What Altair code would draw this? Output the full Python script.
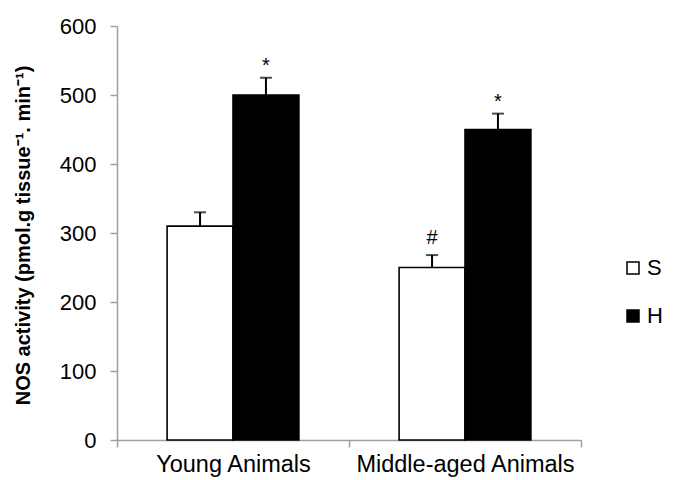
import altair as alt
import pandas as pd

groups = ["Young Animals", "Middle-aged Animals"]
series = ["S", "H"]
mean_S = [310, 250]
mean_H = [500, 450]
err_S = [330, 268]
err_H = [525, 473]
mark_S = ["", "#"]
mark_H = ["*", "*"]

rows = []
for i, g in enumerate(groups):
    rows.append({"group": g, "series": "S", "value": mean_S[i], "err": err_S[i], "label": mark_S[i]})
    rows.append({"group": g, "series": "H", "value": mean_H[i], "err": err_H[i], "label": mark_H[i]})
df = pd.DataFrame(rows)

FONT = "Liberation Sans"
AXIS_GRAY = "#a0a0a0"

x_enc = alt.X("group:N", sort=groups, title=None,
              scale=alt.Scale(paddingInner=0, paddingOuter=0),
              axis=alt.Axis(labelAngle=0, tickBand="extent", labelFontSize=23.5,
                            labelFont=FONT, labelColor="black", domainColor=AXIS_GRAY,
                            tickColor=AXIS_GRAY, tickSize=7, labelPadding=5, labelLimit=400,
                            domainWidth=1.5, tickWidth=1.5))
xoff = alt.XOffset("series:N", sort=series,
                   scale=alt.Scale(paddingInner=0, paddingOuter=0.76))
y_enc = alt.Y("value:Q", scale=alt.Scale(domain=[0, 600], nice=False),
              axis=alt.Axis(values=[0, 100, 200, 300, 400, 500, 600], grid=False,
                            labelFontSize=22, labelFont=FONT, labelColor="black",
                            domainColor=AXIS_GRAY, tickColor=AXIS_GRAY, tickSize=7,
                            labelPadding=14, domainWidth=1.5, tickWidth=1.5,
                            title="NOS activity (pmol.g tissue\u207b\u00b9. min\u207b\u00b9)",
                            titleFont=FONT, titleFontSize=20, titleFontWeight="bold",
                            titleColor="black", titleAngle=-90, titleX=-94, titleY=209,
                            titleAlign="center", titleBaseline="middle"))

base = alt.Chart(df)

bars = base.mark_bar(stroke="black", strokeWidth=1.6).encode(
    x=x_enc, xOffset=xoff, y=y_enc,
    fill=alt.Fill("series:N", sort=series,
                  scale=alt.Scale(domain=series, range=["white", "black"]),
                  legend=alt.Legend(title=None, orient="none", legendX=505, legendY=231,
                                    symbolType="square", symbolSize=144,
                                    symbolStrokeColor="black", symbolStrokeWidth=1.5,
                                    labelFontSize=22, labelFont=FONT, labelColor="black",
                                    labelOffset=3, rowPadding=26, padding=0,
                                    labelLimit=100)),
)

err_line = base.mark_rule(color="black", strokeWidth=2).encode(
    x=alt.X("group:N", sort=groups), xOffset=xoff,
    y=alt.Y("value:Q"), y2="err:Q",
)
err_cap = base.mark_tick(color="black", thickness=2, size=12).encode(
    x=alt.X("group:N", sort=groups), xOffset=xoff, y=alt.Y("err:Q"),
)
star = base.transform_filter(alt.datum.label == "*").mark_text(
    fontSize=20, font=FONT, color="black", baseline="alphabetic", dy=-6
).encode(x=alt.X("group:N", sort=groups), xOffset=xoff, y=alt.Y("err:Q"), text="label:N")
hash_ = base.transform_filter(alt.datum.label == "#").mark_text(
    fontSize=20, font=FONT, color="black", baseline="alphabetic", dy=-11
).encode(x=alt.X("group:N", sort=groups), xOffset=xoff, y=alt.Y("err:Q"), text="label:N")

chart = alt.layer(bars, err_line, err_cap, star, hash_).properties(
    width=464, height=414,
    autosize=alt.AutoSizeParams(type="none"),
    padding={"left": 109, "top": 18, "right": 87, "bottom": 40},
).configure_view(stroke=None)

chart.save("out.html", embed_options={"renderer": "svg", "actions": False})
